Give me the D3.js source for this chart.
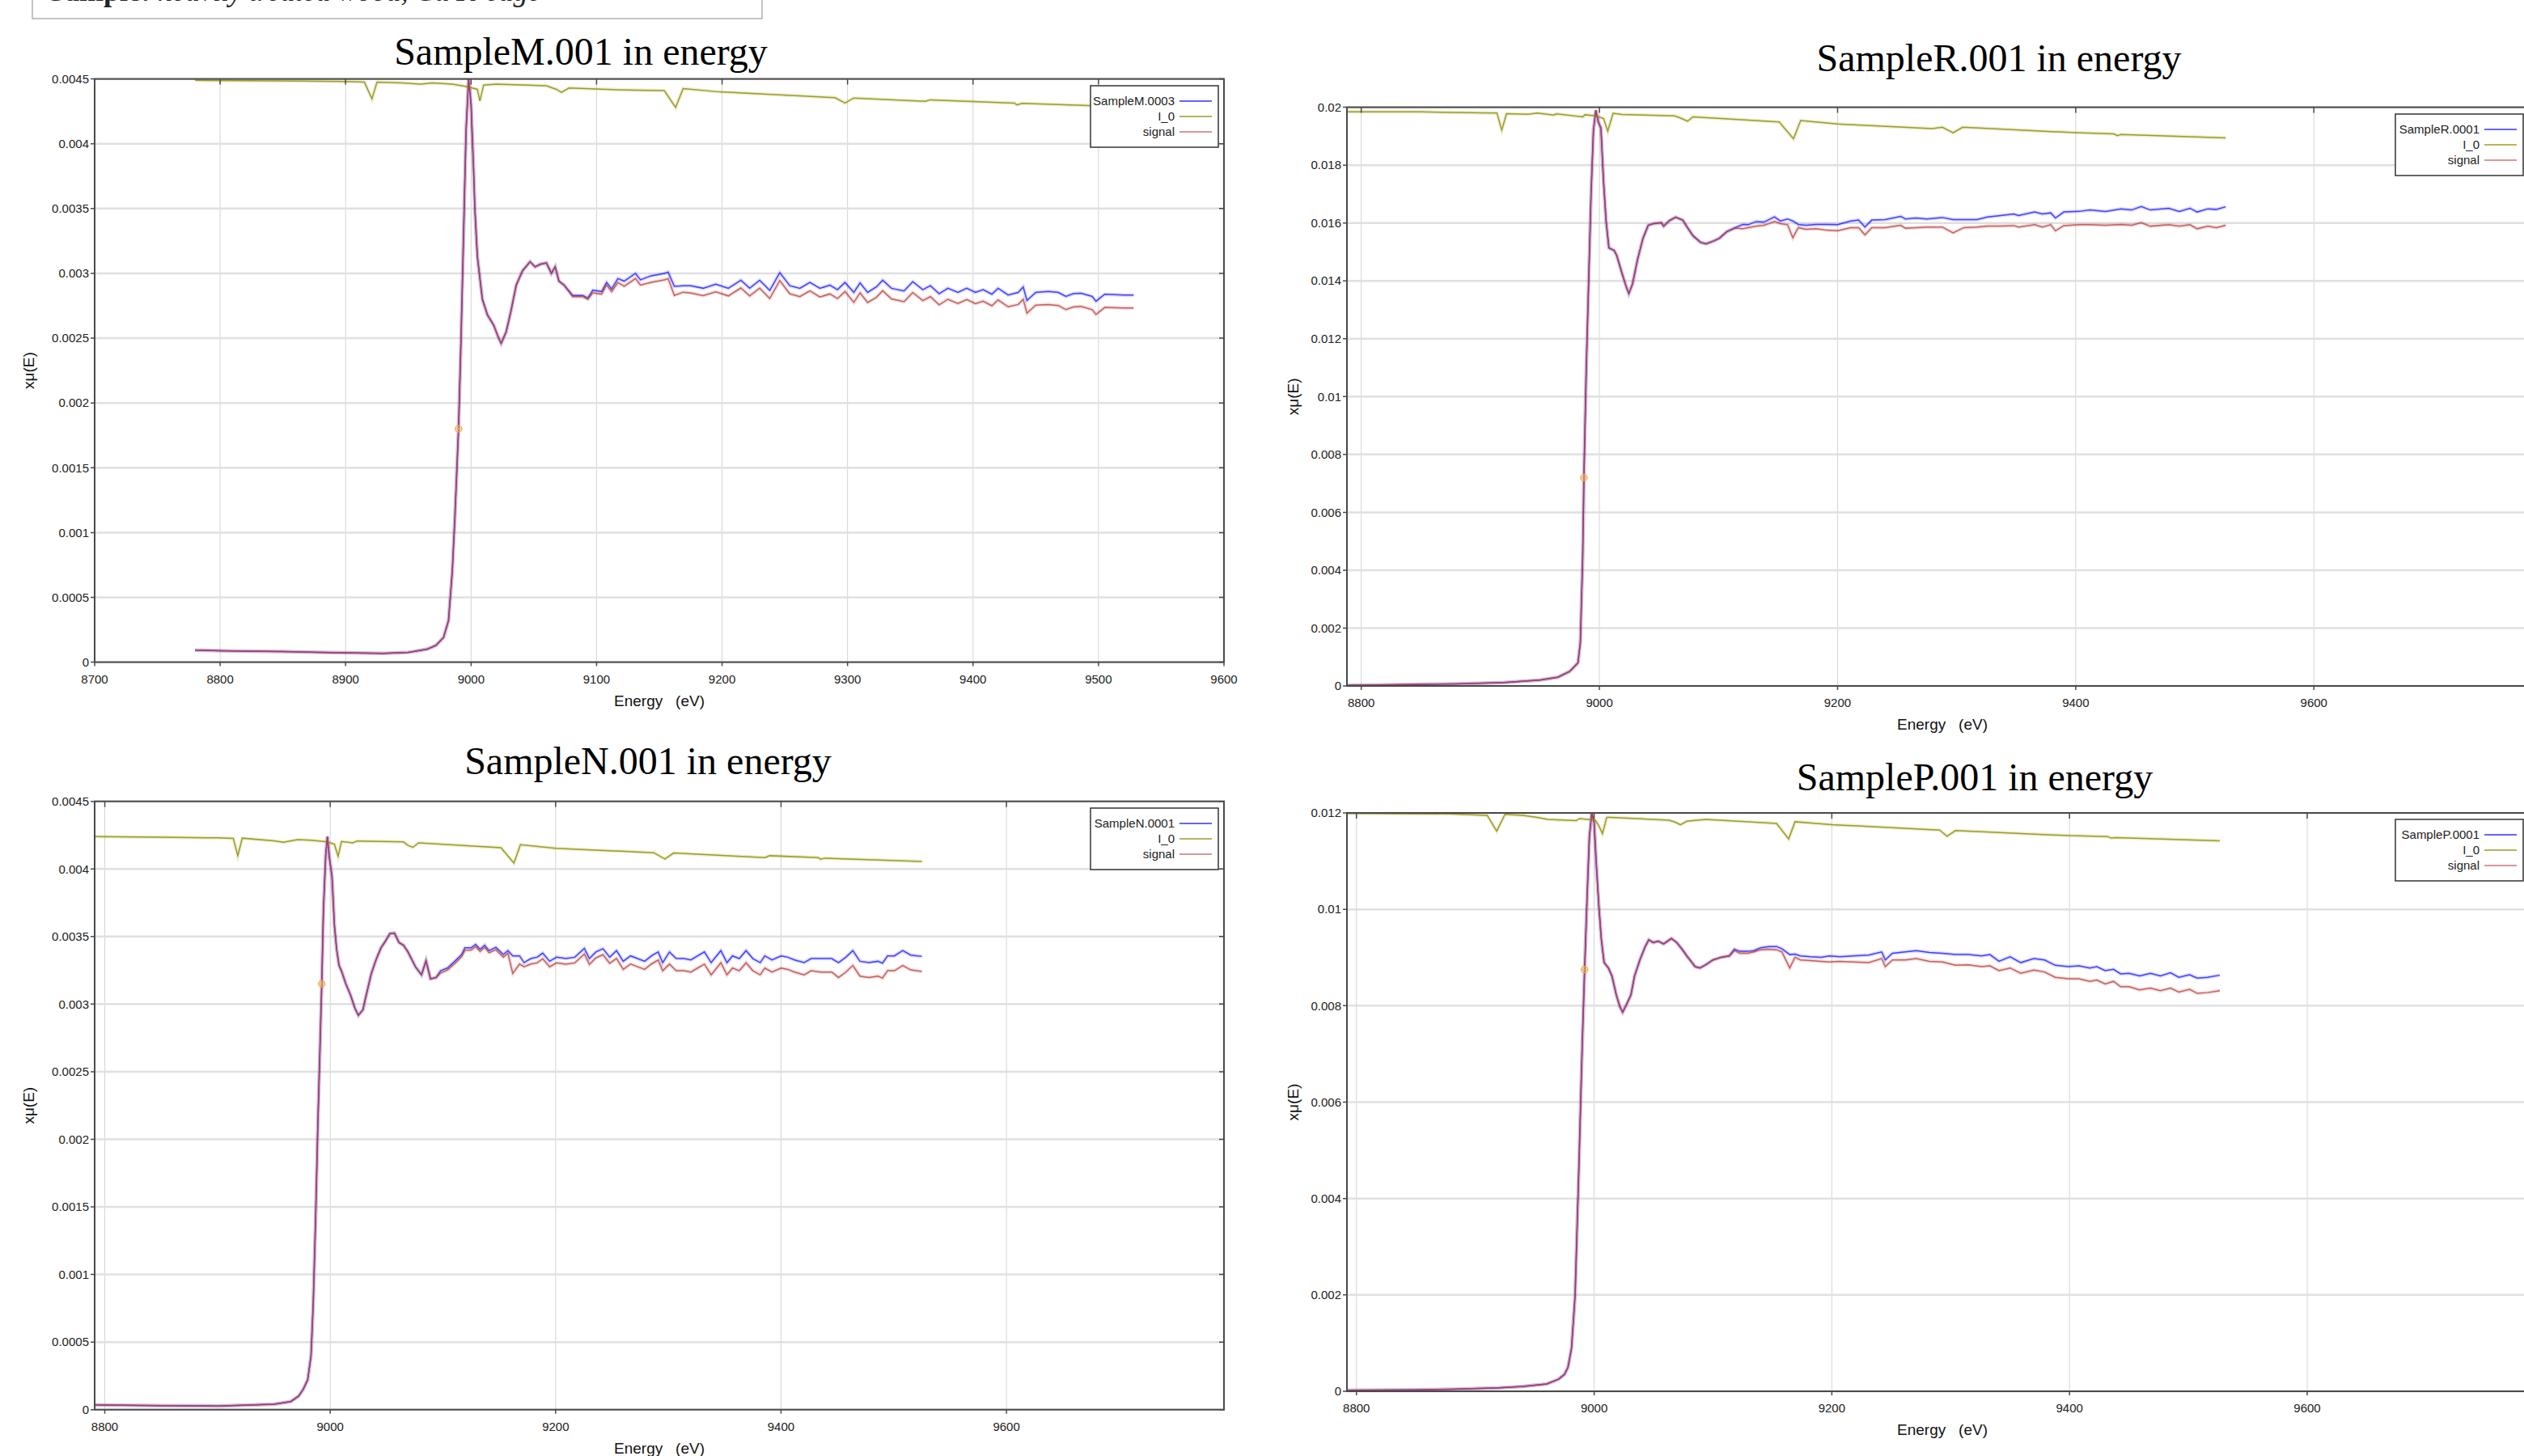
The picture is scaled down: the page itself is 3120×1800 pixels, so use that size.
<!DOCTYPE html>
<meta charset="utf-8">
<style>
body { margin: 0; background: #fff; }
svg { display: block; }
.tick-label { font-family: "Liberation Sans", Arial, sans-serif; font-size: 15px; fill: #222; }
.axis-title { font-family: "Liberation Sans", Arial, sans-serif; font-size: 19px; fill: #111; white-space: pre; }
.panel-title { font-family: "Liberation Serif", "Times New Roman", serif; font-size: 48px; fill: #000; }
.legend text { font-family: "Liberation Sans", Arial, sans-serif; font-size: 15px; fill: #222; }
</style>
<svg width="3120" height="1800"></svg>
<script src="https://cdn.jsdelivr.net/npm/d3@7"></script>
<script>
/* global d3 */

// ---- SampleM ----
var eM = [8780, 8800, 8820, 8850, 8880, 8900, 8930, 8950, 8965, 8972, 8978, 8982, 8985, 8987, 8990, 8992, 8994, 8996, 8998, 9000,
  9002, 9003, 9005, 9009, 9013, 9018, 9022, 9024, 9028, 9032, 9036, 9041, 9047, 9051, 9055, 9060, 9064, 9067, 9070, 9074,
  9081, 9089, 9093, 9097, 9104, 9108, 9112, 9117, 9122, 9131, 9135, 9143, 9154, 9157, 9162, 9169, 9175, 9185, 9195, 9205,
  9215, 9222, 9230, 9238, 9246, 9254, 9262, 9270, 9278, 9286, 9292, 9298, 9305, 9310, 9316, 9323, 9328, 9335, 9345, 9352,
  9360, 9366, 9373, 9380, 9388, 9395, 9402, 9408, 9415, 9420, 9428, 9436, 9440, 9443, 9450, 9460, 9468, 9474, 9480, 9486,
  9495, 9498, 9505, 9520, 9528];
var muM = [0.000093, 0.000088, 0.000085, 0.000082, 0.000076, 0.000072, 0.000068, 0.000075, 0.0001, 0.00013, 0.00019, 0.00032, 0.0007, 0.0011, 0.0018, 0.0025, 0.0033, 0.0041, 0.0045, 0.0043,
  0.0038, 0.0035, 0.00313, 0.0028, 0.00268, 0.0026, 0.0025, 0.00246, 0.00255, 0.00272, 0.00291, 0.00302, 0.00309, 0.00305, 0.00307, 0.00308, 0.0030, 0.00305, 0.00294, 0.00291,
  0.00283, 0.00283, 0.00281, 0.00287, 0.00286, 0.00293, 0.00288, 0.00296, 0.00294, 0.0030, 0.00295, 0.00298, 0.0030, 0.00301, 0.0029, 0.002905, 0.002905, 0.002885, 0.002916, 0.002885,
  0.002947, 0.002885, 0.002947, 0.002868, 0.003005, 0.002905, 0.002885, 0.00293, 0.002885, 0.002909, 0.002874, 0.00293, 0.002853, 0.002926, 0.002853, 0.002895, 0.002947, 0.002885, 0.002864, 0.002936,
  0.002874, 0.002905, 0.002843, 0.002885, 0.002853, 0.002885, 0.002853, 0.002874, 0.002839, 0.002885, 0.002833, 0.002853, 0.002895, 0.002791, 0.002853, 0.00286, 0.002853, 0.002822, 0.002843, 0.002847,
  0.002822, 0.002785, 0.002839, 0.002833, 0.002833];
var sigM = [0.000093, 0.000088, 0.000085, 0.000082, 0.000076, 0.000072, 0.000068, 0.000075, 0.0001, 0.00013, 0.00019, 0.00032, 0.0007, 0.0011, 0.0018, 0.0025, 0.0033, 0.0041, 0.0045, 0.0043,
  0.0038, 0.0035, 0.00313, 0.0028, 0.00268, 0.0026, 0.0025, 0.00246, 0.00255, 0.00272, 0.00291, 0.00302, 0.00309, 0.00305, 0.00307, 0.00308, 0.0030, 0.00305, 0.00294, 0.00291,
  0.00282, 0.00282, 0.0028, 0.00285, 0.00284, 0.00291, 0.00286, 0.00293, 0.0029, 0.00296, 0.00291, 0.00293, 0.00295, 0.00296, 0.00283, 0.002855, 0.002848, 0.002828, 0.002858, 0.002826,
  0.002887, 0.002826, 0.002886, 0.002806, 0.002944, 0.002842, 0.002821, 0.002865, 0.002818, 0.002841, 0.002805, 0.00286, 0.002776, 0.00285, 0.002775, 0.002815, 0.002866, 0.002803, 0.002781, 0.002852,
  0.00279, 0.00282, 0.002757, 0.0028, 0.002767, 0.002798, 0.002766, 0.002786, 0.00275, 0.002795, 0.002742, 0.00276, 0.0028, 0.002693, 0.002755, 0.00276, 0.002752, 0.00272, 0.002741, 0.002745,
  0.00272, 0.002683, 0.002737, 0.002732, 0.002733];
var eI0M = [8780, 8850, 8900, 8915, 8921, 8925, 8945, 8960, 8969, 8985, 8997, 9005, 9007, 9010, 9020, 9060, 9068, 9072, 9078, 9122,
  9154, 9163, 9169, 9198, 9290, 9298, 9305, 9362, 9366, 9433, 9435, 9439, 9527];
var i0M = [0.004489, 0.004485, 0.00448, 0.004475, 0.004347, 0.004475, 0.00447, 0.00446, 0.00447, 0.00446, 0.00444, 0.00442, 0.00433, 0.004453, 0.00446, 0.004447, 0.00442, 0.004397, 0.00443, 0.004415,
  0.00441, 0.00428, 0.004426, 0.0044, 0.004355, 0.004314, 0.004353, 0.004328, 0.004339, 0.004314, 0.0043, 0.004312, 0.004283];
var e0M = [8990, 0.0018];

// ---- SampleN ----
var eN = [8791, 8800, 8850, 8900, 8950, 8965, 8972, 8976, 8980, 8983, 8985, 8987, 8989, 8991, 8992.5, 8994, 8996, 8997.5, 8999, 9001.6,
  9003.7, 9005.7, 9007.8, 9009.9, 9014, 9018, 9022, 9025, 9029, 9032, 9036.5, 9040.6, 9045, 9049, 9053, 9057, 9061, 9065, 9069, 9075.6,
  9081, 9085, 9089, 9094, 9098, 9104, 9110.5, 9116.6, 9119.5, 9125, 9129, 9133, 9137, 9141, 9147, 9153.6, 9157.7, 9162, 9168, 9172,
  9178, 9183.6, 9188.5, 9194.7, 9200.8, 9209, 9217, 9225.5, 9230, 9235.7, 9242, 9248, 9254, 9260, 9266.5, 9272.7, 9279, 9285, 9291, 9295,
  9301, 9307, 9313.8, 9320, 9326, 9332, 9338, 9346.6, 9352, 9357, 9363, 9369, 9375, 9381.5, 9385.6, 9392, 9400, 9406, 9412, 9420.5,
  9426.7, 9435, 9445, 9451, 9457.5, 9463.7, 9470, 9478, 9486, 9490, 9494.5, 9500.6, 9508, 9515, 9525];
var muN = [0.000035, 0.000034, 0.00003, 0.000027, 0.00004, 0.00006, 0.0001, 0.00015, 0.00022, 0.0004, 0.0008, 0.0014, 0.0021, 0.0027, 0.00315, 0.0037, 0.0041, 0.00424, 0.0041, 0.003944,
  0.003586, 0.003406, 0.003287, 0.003247, 0.003147, 0.003068, 0.002968, 0.002918, 0.002958, 0.003068, 0.003227, 0.003327, 0.003416, 0.003466, 0.003522, 0.003526, 0.003456, 0.003436, 0.003386, 0.003277,
  0.003217, 0.003321, 0.003187, 0.003197, 0.003247, 0.003267, 0.003317, 0.003367, 0.003416, 0.003416, 0.003442, 0.003406, 0.003436, 0.003396, 0.00342, 0.003367, 0.003396, 0.003357, 0.003357, 0.003307,
  0.003337, 0.003347, 0.003377, 0.003317, 0.003347, 0.003337, 0.003347, 0.003412, 0.003337, 0.003386, 0.00341, 0.003347, 0.003396, 0.003317, 0.003357, 0.003337, 0.003317, 0.003357, 0.003386, 0.003307,
  0.003386, 0.003337, 0.003337, 0.003327, 0.003357, 0.003386, 0.003307, 0.003396, 0.003307, 0.003357, 0.003337, 0.003396, 0.003337, 0.003307, 0.003357, 0.003327, 0.003357, 0.003347, 0.003327, 0.003307,
  0.003337, 0.003337, 0.003337, 0.003307, 0.003347, 0.003396, 0.003317, 0.003307, 0.003317, 0.003303, 0.003357, 0.003357, 0.003396, 0.003363, 0.003353];
var sigN = [0.000035, 0.000034, 0.00003, 0.000027, 0.00004, 0.00006, 0.0001, 0.00015, 0.00022, 0.0004, 0.0008, 0.0014, 0.0021, 0.0027, 0.00315, 0.0037, 0.0041, 0.00424, 0.0041, 0.003944,
  0.003586, 0.003406, 0.003287, 0.003247, 0.003147, 0.003068, 0.002968, 0.002918, 0.002958, 0.003068, 0.003227, 0.003327, 0.003416, 0.003466, 0.003522, 0.003526, 0.003456, 0.003436, 0.003386, 0.003277,
  0.003217, 0.003321, 0.003187, 0.003197, 0.003231, 0.003251, 0.0033, 0.00335, 0.003398, 0.0034, 0.003425, 0.00339, 0.00342, 0.00338, 0.003402, 0.003348, 0.003376, 0.003227, 0.003297, 0.003277,
  0.003297, 0.003305, 0.003336, 0.003276, 0.003306, 0.003296, 0.003305, 0.00337, 0.003294, 0.003342, 0.003366, 0.003302, 0.003338, 0.003257, 0.003297, 0.003277, 0.003257, 0.003297, 0.003326, 0.003247,
  0.003296, 0.003247, 0.003247, 0.003237, 0.003267, 0.003296, 0.003217, 0.003306, 0.003217, 0.003267, 0.003247, 0.003306, 0.003247, 0.003217, 0.003267, 0.003237, 0.003267, 0.003257, 0.003237, 0.003217,
  0.003247, 0.003237, 0.003237, 0.003197, 0.003237, 0.003286, 0.003207, 0.003197, 0.003207, 0.003193, 0.003247, 0.003247, 0.003286, 0.003253, 0.003241];
var eI0N = [8791, 8850, 8900, 8914, 8918, 8922, 8950, 8958.5, 8971, 8983, 8997.5, 9003.7, 9007, 9010, 9020, 9024, 9065, 9069, 9073.5, 9078.4,
  9151.5, 9163, 9168.8, 9200, 9287, 9297, 9304.7, 9385.6, 9390, 9433, 9435, 9439, 9525];
var i0N = [0.004239, 0.004235, 0.00423, 0.004226, 0.004098, 0.004228, 0.004208, 0.004197, 0.004217, 0.004213, 0.0042, 0.004183, 0.004094, 0.004203, 0.004193, 0.004207, 0.0042, 0.004174, 0.00416, 0.004193,
  0.004157, 0.004044, 0.004179, 0.004153, 0.00412, 0.004074, 0.004118, 0.004084, 0.004098, 0.004084, 0.004072, 0.00408, 0.004056];
var e0N = [8992.5, 0.00315];

// ---- SampleR ----
var eR = [8788, 8830, 8880, 8920, 8950, 8965, 8975, 8980, 8982, 8984, 8986, 8987, 8989, 8991, 8993, 8995, 8997, 8999, 9001.3, 9003.5,
  9005.7, 9008, 9012.4, 9014.6, 9019, 9022.5, 9024.7, 9027.8, 9032, 9036.6, 9041, 9045.5, 9052, 9054, 9058.7, 9064, 9070, 9074, 9078.6, 9085,
  9089.6, 9096, 9100.7, 9107, 9114, 9120.5, 9125, 9131.6, 9138, 9142.6, 9147, 9152, 9158, 9162.5, 9167, 9173.5, 9182, 9191, 9200, 9211,
  9217.7, 9223, 9228.7, 9240, 9253, 9257, 9266, 9275, 9288, 9297, 9306, 9317, 9326, 9337, 9348, 9352, 9365.5, 9372, 9379, 9383,
  9390, 9403, 9412, 9425, 9438, 9447, 9455, 9462.7, 9478, 9487, 9496, 9502, 9511, 9518, 9526];
var muR = [0.00002, 0.00004, 0.00007, 0.00012, 0.0002, 0.0003, 0.0005, 0.00071, 0.0008, 0.0015, 0.0045, 0.0072, 0.011, 0.014, 0.017, 0.0192, 0.0199, 0.0195, 0.01928, 0.01742,
  0.01603, 0.01514, 0.01505, 0.01487, 0.01426, 0.0138, 0.01356, 0.01389, 0.01473, 0.01547, 0.01592, 0.01598, 0.01601, 0.01589, 0.01608, 0.0162, 0.0161, 0.01584, 0.01556, 0.01533,
  0.01528, 0.01538, 0.01547, 0.0157, 0.01584, 0.01595, 0.01594, 0.01605, 0.01603, 0.01612, 0.01621, 0.01607, 0.01614, 0.01607, 0.01595, 0.01592, 0.01595, 0.01595, 0.01594, 0.01607,
  0.0161, 0.01586, 0.0161, 0.01612, 0.01623, 0.01614, 0.01617, 0.01614, 0.01619, 0.01612, 0.01612, 0.01612, 0.01621, 0.01626, 0.01631, 0.01626, 0.01638, 0.01631, 0.01635, 0.01617,
  0.01638, 0.0164, 0.01645, 0.0164, 0.01649, 0.01645, 0.01657, 0.01645, 0.01651, 0.0164, 0.01651, 0.01638, 0.01649, 0.01647, 0.01656];
var sigR = [0.00002, 0.00004, 0.00007, 0.00012, 0.0002, 0.0003, 0.0005, 0.00071, 0.0008, 0.0015, 0.0045, 0.0072, 0.011, 0.014, 0.017, 0.0192, 0.0199, 0.0195, 0.01928, 0.01742,
  0.01603, 0.01514, 0.01505, 0.01487, 0.01426, 0.0138, 0.01356, 0.01389, 0.01473, 0.01547, 0.01592, 0.01598, 0.01601, 0.01589, 0.01608, 0.0162, 0.0161, 0.01584, 0.01556, 0.01533,
  0.01528, 0.01538, 0.01547, 0.0157, 0.01582, 0.0158, 0.01584, 0.01589, 0.01592, 0.01598, 0.01605, 0.01598, 0.01594, 0.01549, 0.01584, 0.01578, 0.0158, 0.01575, 0.01573, 0.01584,
  0.01584, 0.01559, 0.01584, 0.01584, 0.01592, 0.01582, 0.01584, 0.01586, 0.01586, 0.01566, 0.01584, 0.01586, 0.01589, 0.01589, 0.01591, 0.01586, 0.01594, 0.01586, 0.01594, 0.01573,
  0.01591, 0.01594, 0.01594, 0.01592, 0.01595, 0.01592, 0.01601, 0.01589, 0.01594, 0.01589, 0.01594, 0.0158, 0.01589, 0.01584, 0.01592];
var eI0R = [8788, 8850, 8900, 8914, 8918, 8922, 8940, 8948, 8961.6, 8964, 8986, 8988, 8997, 9003.5, 9007, 9011.5, 9019, 9063, 9067.5, 9074,
  9078.6, 9151, 9163, 9169, 9200, 9279.5, 9288, 9297, 9305, 9400, 9432, 9435, 9438, 9526];
var i0R = [0.01984, 0.01984, 0.01981, 0.0198, 0.01921, 0.01978, 0.01976, 0.0198, 0.01973, 0.01977, 0.01967, 0.01974, 0.0197, 0.01961, 0.01917, 0.01979, 0.01975, 0.0197, 0.01964, 0.01952,
  0.01967, 0.01949, 0.01891, 0.01954, 0.01942, 0.01926, 0.01931, 0.01912, 0.01931, 0.01912, 0.01908, 0.01902, 0.01906, 0.01894];
var e0R = [8987, 0.0072];

// ---- SampleP ----
var eP = [8792, 8850, 8880, 8920, 8940, 8960, 8970, 8975, 8978, 8981, 8984, 8987, 8990, 8992, 8994, 8996, 8998, 9000, 9001.8, 9004,
  9006, 9008.4, 9012, 9015, 9018.6, 9021.7, 9024, 9027.4, 9031, 9034, 9038.5, 9043, 9046, 9049.6, 9054, 9058.4, 9065, 9069.5, 9074, 9078,
  9085, 9089, 9094, 9100, 9107, 9113.7, 9118, 9122.6, 9129, 9134.5, 9140, 9147, 9153.5, 9158, 9164.6, 9169, 9173.5, 9182, 9191, 9198,
  9206.6, 9217.7, 9231, 9242, 9245, 9251, 9262, 9271, 9282, 9293, 9304, 9315, 9326, 9333, 9340.7, 9350, 9359, 9370, 9379, 9388,
  9399, 9408, 9417, 9423, 9430, 9437, 9443, 9450, 9459, 9468, 9476.5, 9485, 9492, 9501, 9507.5, 9516, 9526.5];
var muP = [0.00002, 0.00003, 0.00004, 0.00007, 0.0001, 0.00015, 0.00025, 0.00035, 0.0005, 0.0009, 0.002, 0.0045, 0.0072, 0.00875, 0.0102, 0.0115, 0.012, 0.0118, 0.01095, 0.01006,
  0.009394, 0.008894, 0.008783, 0.008617, 0.008228, 0.007978, 0.007867, 0.008033, 0.008228, 0.008617, 0.00895, 0.009228, 0.009367, 0.009311, 0.009339, 0.009283, 0.009394, 0.009311, 0.009172, 0.009033,
  0.008811, 0.008783, 0.00885, 0.00895, 0.009006, 0.009033, 0.009172, 0.009128, 0.009128, 0.009144, 0.0092, 0.009228, 0.009228, 0.009183, 0.009061, 0.009072, 0.009033, 0.009017, 0.009006, 0.009033,
  0.009017, 0.009033, 0.00905, 0.009117, 0.00895, 0.009089, 0.009117, 0.009144, 0.009105, 0.009089, 0.009061, 0.009061, 0.009033, 0.009061, 0.008922, 0.009017, 0.008894, 0.008978, 0.00895, 0.008839,
  0.008811, 0.008828, 0.008783, 0.008811, 0.008728, 0.008756, 0.008661, 0.008672, 0.008617, 0.008672, 0.008617, 0.008683, 0.008589, 0.008644, 0.008572, 0.008589, 0.008633];
var sigP = [0.00002, 0.00003, 0.00004, 0.00007, 0.0001, 0.00015, 0.00025, 0.00035, 0.0005, 0.0009, 0.002, 0.0045, 0.0072, 0.00875, 0.0102, 0.0115, 0.012, 0.0118, 0.01095, 0.01006,
  0.009394, 0.008894, 0.008783, 0.008617, 0.008228, 0.007978, 0.007867, 0.008033, 0.008228, 0.008617, 0.00895, 0.009228, 0.009367, 0.009311, 0.009339, 0.009283, 0.009394, 0.009311, 0.009172, 0.009033,
  0.008811, 0.008783, 0.00885, 0.00895, 0.009006, 0.009033, 0.009144, 0.009089, 0.009089, 0.009117, 0.009161, 0.009172, 0.009161, 0.009117, 0.008783, 0.009006, 0.00895, 0.008939, 0.008922, 0.008906,
  0.008922, 0.008906, 0.008894, 0.008978, 0.008811, 0.00895, 0.00895, 0.008978, 0.008922, 0.008906, 0.008839, 0.00885, 0.008811, 0.008828, 0.008728, 0.008783, 0.008672, 0.008739, 0.0087, 0.008589,
  0.008561, 0.008561, 0.008506, 0.008533, 0.00845, 0.008506, 0.008394, 0.008394, 0.008328, 0.008367, 0.008311, 0.008367, 0.008283, 0.008339, 0.008256, 0.008272, 0.008311];
var eI0P = [8792, 8880, 8910, 8918, 8925, 8940, 8952, 8961, 8985, 8987.6, 9001, 9004, 9007, 9010.6, 9014, 9063, 9068, 9072.6, 9078, 9094,
  9153.5, 9163.7, 9169, 9200, 9290.7, 9297, 9304, 9400, 9432, 9435, 9439, 9526.5];
var i0P = [0.01199, 0.01198, 0.01195, 0.011624, 0.01197, 0.01195, 0.011906, 0.011867, 0.011839, 0.011883, 0.01185, 0.011728, 0.011572, 0.011906, 0.011906, 0.01185, 0.011811, 0.011756, 0.011828, 0.011867,
  0.011783, 0.011461, 0.011817, 0.011756, 0.011644, 0.011517, 0.011633, 0.011528, 0.011511, 0.011478, 0.011489, 0.011422];
var e0P = [8992, 0.00875];

var legendNames = ["I_0", "signal"];

var svg = d3.select("svg");
var colBlue = "#3030ff", colI0 = "#9c9c22", colSig = "#b83c3c";

// the caption box at the very top, cut by the page edge
svg.append("rect").attr("x", 40).attr("y", -20).attr("width", 902).attr("height", 43)
  .attr("fill", "#fff").attr("stroke", "#b0b0b0").attr("stroke-width", 1.5);
var cap = svg.append("text").attr("x", 60).attr("y", 1)
  .attr("font-family", "Liberation Serif, serif").attr("font-size", 36).attr("fill", "#222");
cap.append("tspan").attr("font-weight", "bold").text("Sample: ");
cap.append("tspan").attr("font-style", "italic").text("heavily treated wood, Cu K-edge");

var panels = [
  {title: "SampleM.001 in energy", name: "SampleM.0003", e: eM, mu: muM, sig: sigM, eI0: eI0M, i0: i0M, e0: e0M,
   xd: [8700, 9600], xr: [117, 1513], yd: [0, 0.0045], yr: [818.6, 97.6], xstep: 100, ystep: 0.0005,
   tx: 718, ty: 80, lx: 1348, ly: 106, ylx: 35, xly: 873},
  {title: "SampleR.001 in energy", name: "SampleR.0001", e: eR, mu: muR, sig: sigR, eI0: eI0R, i0: i0R, e0: e0R,
   xd: [8788, 9788], xr: [1665, 3137], yd: [0, 0.02], yr: [848, 132.6], xstep: 200, ystep: 0.002,
   tx: 2471, ty: 88, lx: 2961, ly: 141, ylx: 1598, xly: 902},
  {title: "SampleN.001 in energy", name: "SampleN.0001", e: eN, mu: muN, sig: sigN, eI0: eI0N, i0: i0N, e0: e0N,
   xd: [8791, 9793], xr: [117, 1513], yd: [0, 0.0045], yr: [1742.7, 990.7], xstep: 200, ystep: 0.0005,
   tx: 801, ty: 957, lx: 1348, ly: 999, ylx: 35, xly: 1797},
  {title: "SampleP.001 in energy", name: "SampleP.0001", e: eP, mu: muP, sig: sigP, eI0: eI0P, i0: i0P, e0: e0P,
   xd: [8792, 9794], xr: [1665, 3137], yd: [0, 0.012], yr: [1720, 1005], xstep: 200, ystep: 0.002,
   tx: 2441, ty: 977, lx: 2961, ly: 1013, ylx: 1598, xly: 1774}
];

function fmt(v) { return v === 0 ? "0" : String(+v.toFixed(6)); }

panels.forEach(function (p, i) {
  var x = d3.scaleLinear().domain(p.xd).range(p.xr);
  var y = d3.scaleLinear().domain(p.yd).range(p.yr);
  var x0 = p.xr[0], x1 = p.xr[1], yT = p.yr[1], yB = p.yr[0];
  var g = svg.append("g");

  var xticks = d3.range(Math.ceil(p.xd[0] / p.xstep) * p.xstep, p.xd[1] + 1, p.xstep);
  var yticks = d3.range(0, p.yd[1] + p.ystep / 2, p.ystep);

  // grid
  g.selectAll(".vg").data(xticks).enter().append("line")
    .attr("x1", x).attr("x2", x).attr("y1", yT).attr("y2", yB)
    .attr("stroke", "#d4d4d4").attr("stroke-width", 1);
  g.selectAll(".hg").data(yticks).enter().append("line")
    .attr("x1", x0).attr("x2", x1).attr("y1", y).attr("y2", y)
    .attr("stroke", "#e0e0e0").attr("stroke-width", 2.5);

  // series
  var clipId = "clip" + i;
  g.append("clipPath").attr("id", clipId).append("rect")
    .attr("x", x0).attr("y", yT).attr("width", x1 - x0).attr("height", yB - yT);
  var plot = g.append("g").attr("clip-path", "url(#" + clipId + ")");
  var line = d3.line().x(function (d) { return x(d[0]); }).y(function (d) { return y(d[1]); });
  var series = [
    {pts: d3.zip(p.e, p.mu), col: colBlue, op: 0.9},
    {pts: d3.zip(p.eI0, p.i0), col: colI0, op: 1},
    {pts: d3.zip(p.e, p.sig), col: colSig, op: 0.78}
  ];
  series.forEach(function (s) {
    plot.append("path").attr("d", line(s.pts)).attr("fill", "none")
      .attr("stroke", s.col).attr("stroke-opacity", 0.18).attr("stroke-width", 4.5);
    plot.append("path").attr("d", line(s.pts)).attr("fill", "none")
      .attr("stroke", s.col).attr("stroke-opacity", s.op).attr("stroke-width", 1.5);
  });

  // E0 marker
  var mx = x(p.e0[0]), my = y(p.e0[1]);
  plot.append("circle").attr("cx", mx).attr("cy", my).attr("r", 4)
    .attr("fill", "none").attr("stroke", "#f2a93b").attr("stroke-width", 1.3);
  plot.append("path").attr("d", "M" + (mx - 4) + "," + my + "H" + (mx + 4) + "M" + mx + "," + (my - 4) + "V" + (my + 4))
    .attr("stroke", "#f2a93b").attr("stroke-width", 1);

  // frame and ticks
  g.append("rect").attr("x", x0).attr("y", yT).attr("width", x1 - x0).attr("height", yB - yT)
    .attr("fill", "none").attr("stroke", "#4a4a4a").attr("stroke-width", 2);
  g.selectAll(".yt").data(yticks).enter().append("path")
    .attr("d", function (d) { return "M" + (x0 - 5) + "," + y(d) + "H" + x0 + "M" + (x1 - 6) + "," + y(d) + "H" + x1; })
    .attr("stroke", "#4a4a4a").attr("stroke-width", 1.5);
  g.selectAll(".xt").data(xticks).enter().append("path")
    .attr("d", function (d) { return "M" + x(d) + "," + yB + "V" + (yB + 5) + "M" + x(d) + "," + yT + "V" + (yT + 7); })
    .attr("stroke", "#4a4a4a").attr("stroke-width", 1.5);

  g.selectAll(".yl").data(yticks).enter().append("text").attr("class", "tick-label")
    .attr("x", x0 - 7).attr("y", y).attr("dy", "0.35em").attr("text-anchor", "end").text(fmt);
  g.selectAll(".xl").data(xticks).enter().append("text").attr("class", "tick-label")
    .attr("x", x).attr("y", yB + 26).attr("text-anchor", "middle").text(function (d) { return d; });

  // axis titles
  g.append("text").attr("class", "axis-title").attr("text-anchor", "middle")
    .attr("transform", "translate(" + p.ylx + "," + ((yT + yB) / 2) + ") rotate(-90)")
    .attr("dy", "0.35em").text("xμ(E)");
  g.append("text").attr("class", "axis-title").attr("text-anchor", "middle")
    .attr("x", (x0 + x1) / 2).attr("y", p.xly).text("Energy   (eV)");

  // panel title
  g.append("text").attr("class", "panel-title").attr("text-anchor", "middle")
    .attr("x", p.tx).attr("y", p.ty).text(p.title);

  // legend
  var lg = g.append("g").attr("class", "legend").attr("transform", "translate(" + p.lx + "," + p.ly + ")");
  lg.append("rect").attr("width", 158).attr("height", 76).attr("fill", "#fff")
    .attr("stroke", "#333").attr("stroke-width", 1.5);
  var names = [p.name].concat(legendNames);
  var cols = [colBlue, colI0, colSig];
  names.forEach(function (n, k) {
    var yy = 19 + k * 19;
    lg.append("text").attr("x", 104).attr("y", yy).attr("dy", "0.35em").attr("text-anchor", "end").text(n);
    lg.append("line").attr("x1", 110).attr("x2", 150).attr("y1", yy).attr("y2", yy)
      .attr("stroke", cols[k]).attr("stroke-opacity", k === 2 ? 0.7 : 1).attr("stroke-width", 1.5);
  });
});
</script>
